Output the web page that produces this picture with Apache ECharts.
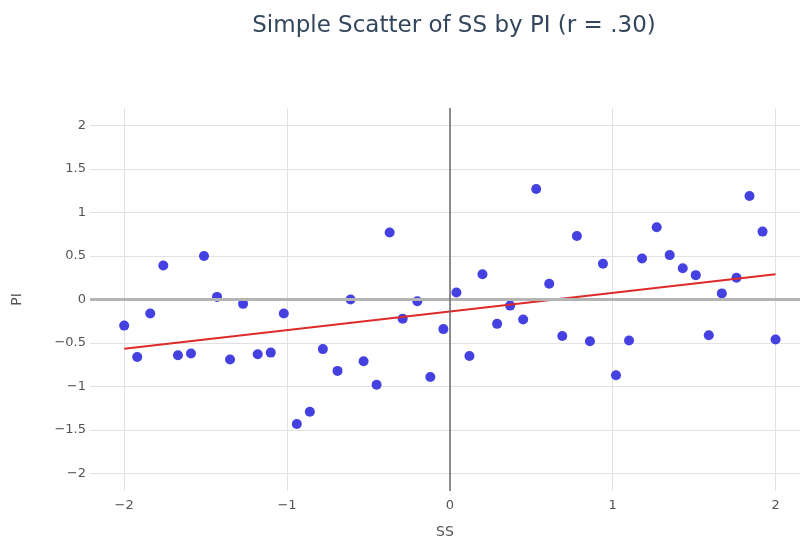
<!DOCTYPE html>
<html>
<head>
<meta charset="utf-8">
<script src="https://cdn.jsdelivr.net/npm/echarts@6/dist/echarts.min.js"></script>
<style>
  html, body { margin: 0; padding: 0; background: #fff; }
  #main { width: 800px; height: 540px; }
</style>
</head>
<body>
<div id="main"></div>
<script>
// SS values (x)
var ssVals = [-2.00, -1.92, -1.84, -1.76, -1.67, -1.59, -1.51, -1.43, -1.35, -1.27,
              -1.18, -1.10, -1.02, -0.94, -0.86, -0.78, -0.69, -0.61, -0.53, -0.45,
              -0.37, -0.29, -0.20, -0.12, -0.04, 0.04, 0.12, 0.20, 0.29, 0.37,
              0.45, 0.53, 0.61, 0.69, 0.78, 0.86, 0.94, 1.02, 1.10, 1.18,
              1.27, 1.35, 1.43, 1.51, 1.59, 1.67, 1.76, 1.84, 1.92, 2.00];
// PI values (y)
var piVals = [-0.30, -0.66, -0.16, 0.39, -0.64, -0.62, 0.50, 0.03, -0.69, -0.05,
              -0.63, -0.61, -0.16, -1.43, -1.29, -0.57, -0.82, 0.00, -0.71, -0.98,
              0.77, -0.22, -0.02, -0.89, -0.34, 0.08, -0.65, 0.29, -0.28, -0.07,
              -0.23, 1.27, 0.18, -0.42, 0.73, -0.48, 0.41, -0.87, -0.47, 0.47,
              0.83, 0.51, 0.36, 0.28, -0.41, 0.07, 0.25, 1.19, 0.78, -0.46];
// fitted line end points
var fitX = [-2.0, 2.0];
var fitY = [-0.565, 0.29];

var chart = echarts.init(document.getElementById('main'));

var points = [];
for (var i = 0; i < ssVals.length; i++) {
    points.push([ssVals[i], piVals[i]]);
}
var fitLine = [];
for (var j = 0; j < fitX.length; j++) {
    fitLine.push([fitX[j], fitY[j]]);
}

function minusFmt(v) {
    return String(v).replace('-', '\u2212');
}

var fontFam = '"DejaVu Sans", Verdana, sans-serif';

var option = {
    backgroundColor: '#fff',
    animation: false,
    title: {
        text: 'Simple Scatter of SS by PI (r = .30)',
        left: 449,
        textAlign: 'center',
        top: 10,
        textStyle: { fontFamily: fontFam, fontSize: 23, fontWeight: 'normal', color: '#34465c' }
    },
    grid: { left: 90, right: 0, top: 108, bottom: 49, containLabel: false, outerBoundsMode: 'none' },
    xAxis: {
        type: 'value',
        min: -2.21,
        max: 2.15,
        minInterval: 1,
        maxInterval: 1,
        name: 'SS',
        nameLocation: 'middle',
        nameGap: 34,
        nameTextStyle: { fontFamily: fontFam, fontSize: 14, color: '#555' },
        axisLine: { show: false },
        axisTick: { show: false },
        axisLabel: {
            showMinLabel: false, showMaxLabel: false,
            fontFamily: fontFam, fontSize: 13, color: '#555', margin: 8,
            formatter: minusFmt
        },
        splitLine: { show: true, showMinLine: false, showMaxLine: false, lineStyle: { color: '#e2e2e2', width: 1 } }
    },
    yAxis: {
        type: 'value',
        min: -2.2,
        max: 2.2,
        minInterval: 0.5,
        maxInterval: 0.5,
        name: 'PI',
        nameLocation: 'middle',
        nameGap: 66,
        nameTextStyle: { fontFamily: fontFam, fontSize: 14, color: '#555' },
        axisLine: { show: false },
        axisTick: { show: false },
        axisLabel: {
            showMinLabel: false, showMaxLabel: false,
            fontFamily: fontFam, fontSize: 13, color: '#555', margin: 4,
            formatter: minusFmt
        },
        splitLine: { show: true, showMinLine: false, showMaxLine: false, lineStyle: { color: '#e2e2e2', width: 1 } }
    },
    series: [
        {
            type: 'line',
            silent: true,
            data: [],
            markLine: {
                silent: true,
                symbol: 'none',
                label: { show: false },
                data: [
                    { yAxis: 0, lineStyle: { color: '#b4b4b4', width: 3, type: 'solid' } },
                    { xAxis: 0, lineStyle: { color: '#6a6a6a', width: 1.5, type: 'solid' } }
                ]
            }
        },
        {
            name: 'PI',
            type: 'scatter',
            symbolSize: 10,
            itemStyle: { color: '#4540e0', opacity: 1 },
            data: points,
            z: 3
        },
        {
            name: 'Fit',
            type: 'line',
            symbol: 'none',
            lineStyle: { color: '#dd2a2a', width: 2 },
            data: fitLine,
            z: 4
        }
    ]
};

chart.setOption(option);
</script>
</body>
</html>
